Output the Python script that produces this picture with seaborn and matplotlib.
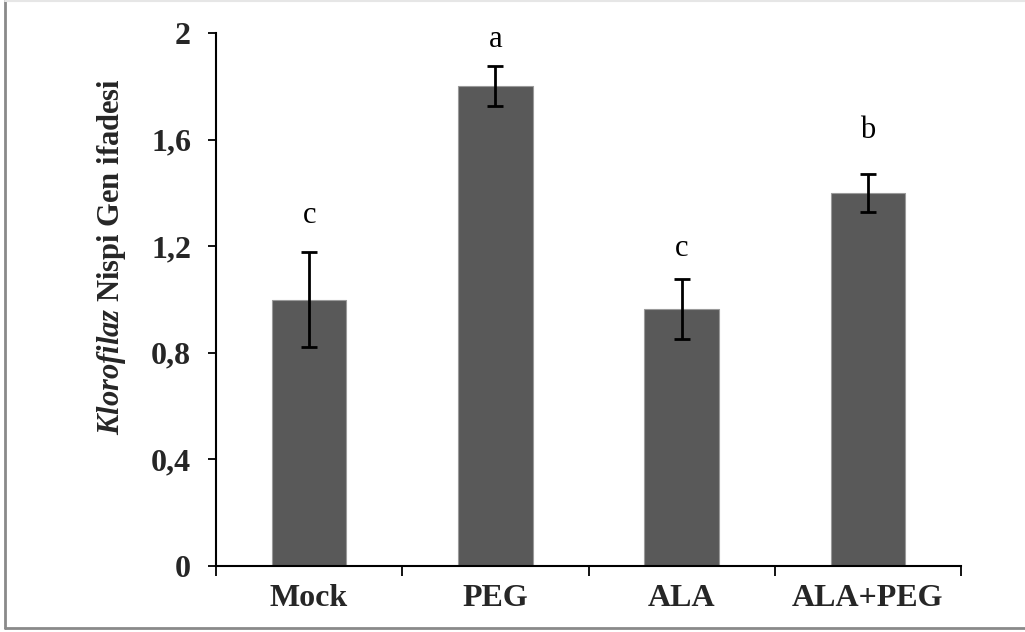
import matplotlib
matplotlib.use("Agg")
import matplotlib.pyplot as plt
from matplotlib.lines import Line2D
from matplotlib.ticker import FixedLocator, FuncFormatter
import seaborn as sns
import pandas as pd

# ---- data ----
categories = ["Mock", "PEG", "ALA", "ALA+PEG"]
values = [1.00, 1.80, 0.964, 1.40]
errors = [0.18, 0.075, 0.113, 0.07]
letters = ["c", "a", "c", "b"]
letter_y = [1.317, 1.974, 1.193, 1.636]
yticks = [0, 0.4, 0.8, 1.2, 1.6, 2.0]

df = pd.DataFrame({"grp": categories, "val": values})

sns.set_style("white")
plt.rcParams["font.family"] = ["Liberation Serif", "DejaVu Serif"]
plt.rcParams["mathtext.fontset"] = "custom"
plt.rcParams["mathtext.rm"] = "Liberation Serif"
plt.rcParams["mathtext.it"] = "Liberation Serif:italic"
plt.rcParams["mathtext.bf"] = "Liberation Serif:bold"
plt.rcParams["mathtext.bfit"] = "Liberation Serif:italic:bold"

W, H = 1025, 632
fig = plt.figure(figsize=(W / 100, H / 100), dpi=100)
ax = fig.add_axes([216 / W, 1 - 566 / H, (961 - 216) / W, (566 - 33) / H])

sns.barplot(data=df, x="grp", y="val", order=categories, color="#595959",
            saturation=1, width=0.4, errorbar=None, ax=ax,
            edgecolor="#9a9a9a", linewidth=0.8)

ax.errorbar(range(len(categories)), values, yerr=errors, fmt="none",
            ecolor="black", elinewidth=2, capsize=5.5, capthick=2, zorder=5)

for i, (lt, ly) in enumerate(zip(letters, letter_y)):
    ax.text(i, ly, lt, ha="center", va="center", fontsize=22, color="black")

ax.set_xlim(-0.5, len(categories) - 0.5)
ax.set_ylim(0, 2)
ax.yaxis.set_major_locator(FixedLocator(yticks))
ax.yaxis.set_major_formatter(FuncFormatter(
    lambda v, p: ("%g" % round(v, 1)).replace(".", ",")))

for s in ["top", "right"]:
    ax.spines[s].set_visible(False)
for s in ["left", "bottom"]:
    ax.spines[s].set_color("black")
    ax.spines[s].set_linewidth(1.5)

ax.set_xlabel("")
ax.set_ylabel("")
ax.tick_params(axis="y", direction="out", length=6, width=1.3, color="black",
               labelsize=23, pad=12, left=True)
ax.tick_params(axis="x", which="major", length=0, labelsize=23, pad=13)
ax.set_xticks([i - 0.5 for i in range(len(categories) + 1)], minor=True)
ax.tick_params(axis="x", which="minor", direction="out", length=7, width=1.3,
               color="black", bottom=True)
for lab in ax.get_xticklabels() + ax.get_yticklabels():
    lab.set_fontweight("bold")

# y label: italic gene name + bold rest
fig.text(112 / W, 1 - 257 / H,
         r"$\mathbfit{Klorofilaz}$" + " Nispi Gen ifadesi",
         rotation=90, ha="center", va="center", fontsize=22,
         fontweight="bold")

# figure frame (left and bottom gray, top faint)
fig.add_artist(Line2D([5 / W, 5 / W], [1 - 628 / H, 1.0], transform=fig.transFigure,
                      color="#8a8a8a", linewidth=2))
fig.add_artist(Line2D([5 / W, 1.0], [1 - 628 / H, 1 - 628 / H], transform=fig.transFigure,
                      color="#8a8a8a", linewidth=2))
fig.add_artist(Line2D([5 / W, 1.0], [1 - 1 / H, 1 - 1 / H], transform=fig.transFigure,
                      color="#e6e6e6", linewidth=1.5))

fig.savefig("out.png", dpi=100)
